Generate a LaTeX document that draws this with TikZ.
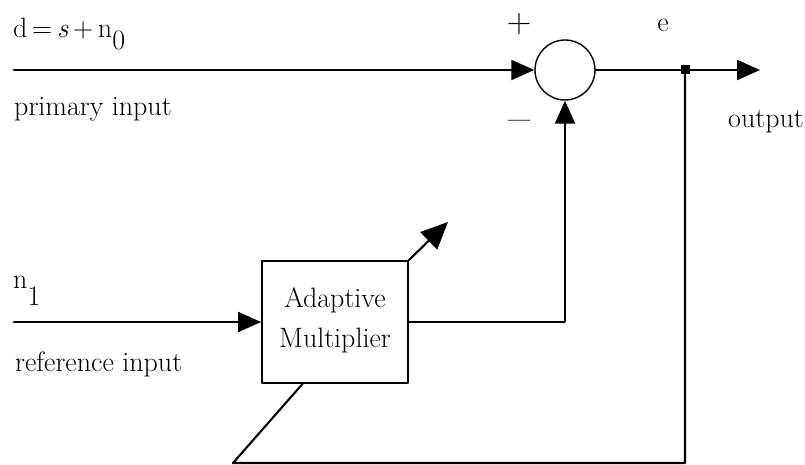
\documentclass[tikz,border=0pt]{standalone}
\usepackage{tikz}
\usetikzlibrary{arrows.meta,positioning,calc}
\tikzset{
    every picture/.style={line cap=round,line join=round},
    sumnode/.style={draw,circle,line width=1.4pt,minimum size=60pt,inner sep=0pt},
    blockbox/.style={draw,line width=1.8pt,minimum width=146pt,
      minimum height=122pt,inner sep=0pt},
    junction/.style={fill,minimum size=9pt,inner sep=0pt},
    sigline/.style={draw,line width=2.1pt},
    sigarrow/.style={sigline,-{Triangle[length=23pt,width=20pt]}},
    adaptarrow/.style={sigline,-{Triangle[length=27pt,width=24pt]}},
    labeltext/.style={font=\fontsize{28}{40}\selectfont,inner sep=0pt,align=center},
    signtext/.style={font=\fontsize{34}{36}\selectfont,inner sep=0pt}
}

\begin{document}
\begin{tikzpicture}[x=1pt,y=-1pt]
  \useasboundingbox (0,0) rectangle (805,465);
  \node[sumnode] (sum) at (565,70) {};
  \node[blockbox] (mult) at (335,322) {};
  \node[labeltext,below=27pt of mult.north] (multtxt) {Adaptive\\Multiplier};
  \node[junction] (junc) at (685,70) {};
  \coordinate (pin) at (14,70);
  \coordinate (rin) at (14,322);
  \coordinate (out) at (760,70);
  \coordinate (adapt) at (448,222);
  \coordinate (fb) at (233,463);
  \draw[sigarrow] (pin) -- (sum.west);
  \draw[sigarrow] (rin) -- (mult.west);
  \draw[sigline] (sum.east) -- (junc);
  \draw[sigarrow] (junc) -- (out);
  \draw[sigarrow] (mult.east) -| (sum.south);
  \draw[adaptarrow] (mult.north east) -- (adapt);
  \draw[sigline] (junc) |- (fb) -- ($(mult.south west)!0.28!(mult.south east)$);
  \node[labeltext,anchor=base west] (dlab) at (13,38) {d\,=\,\textit{s}\,+\,n\raisebox{-12pt}{0}};
  \node[labeltext,anchor=base west] (plab) at (14,116) {primary input};
  \node[labeltext,anchor=base west] (nlab) at (13,288) {n\raisebox{-17pt}{1}};
  \node[labeltext,anchor=base west] (rlab) at (15,371) {reference input};
  \node[labeltext,anchor=base] (elab) at (663,32) {e};
  \node[labeltext,anchor=base west] (olab) at (728,128) {output};
  \node[signtext] (plus) at (519,24) {+};
  \node[signtext,font=\fontsize{48}{50}\selectfont] (minus) at (520,127) {--};
\end{tikzpicture}
\end{document}
